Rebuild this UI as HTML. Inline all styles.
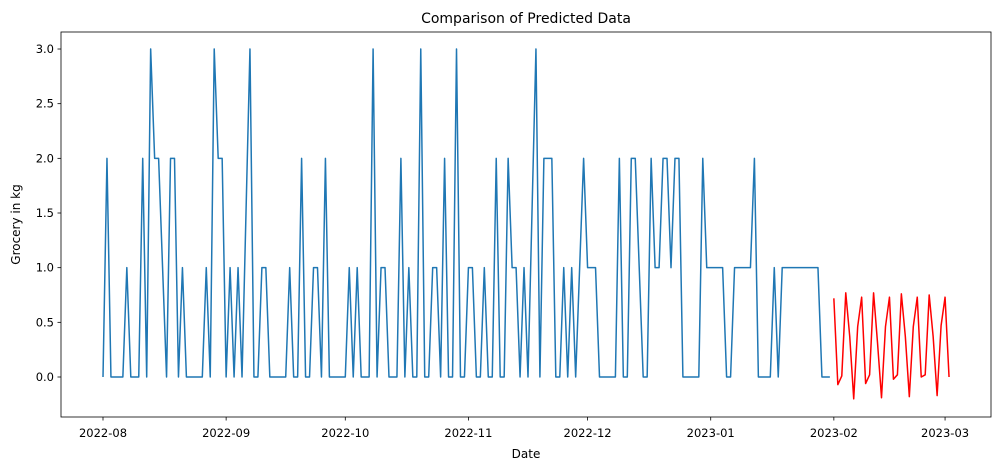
<!DOCTYPE html>
<html><head><meta charset="utf-8"><style>
body{margin:0;background:#fff;}
svg{display:block;font-family:"DejaVu Sans","Liberation Sans",sans-serif;}
</style></head><body>
<svg id="chart" width="1001" height="470"></svg>
<script>
const blueValues=[0,2,0,0,0,0,1,0,0,0,2,0,3,2,2,1,0,2,2,0,1,0,0,0,0,0,1,0,3,2,2,0,1,0,1,0,1.5,3,0,0,1,1,0,0,0,0,0,1,0,0,2,0,0,1,1,0,2,0,0,0,0,0,1,0,1,0,0,0,3,0,1,1,0,0,0,2,0,1,0,0,3,0,0,1,1,0,2,0,0,3,0,0,1,1,0,0,1,0,0,2,0,0,2,1,1,0,1,0,1.5,3,0,2,2,2,0,0,1,0,1,0,1,2,1,1,1,0,0,0,0,0,2,0,0,2,2,1,0,0,2,1,1,2,2,1,2,2,0,0,0,0,0,2,1,1,1,1,1,0,0,1,1,1,1,1,2,0,0,0,0,1,0,1,1,1,1,1,1,1,1,1,1,0,0,0];
const redStartDay=184;
const redValues=[0.72,-0.07,0.01,0.77,0.37,-0.2,0.46,0.73,-0.06,0.02,0.77,0.31,-0.19,0.46,0.73,-0.02,0.02,0.76,0.37,-0.18,0.46,0.73,0.0,0.02,0.75,0.37,-0.17,0.47,0.73,0.0];
const xTickLabels=["2022-08","2022-09","2022-10","2022-11","2022-12","2023-01","2023-02","2023-03"];
const xTickDays=[0,31,61,92,122,153,184,212];
const yTickValues=[0,0.5,1,1.5,2,2.5,3];
const yTickLabels=["0.0","0.5","1.0","1.5","2.0","2.5","3.0"];

const NS="http://www.w3.org/2000/svg";
const svg=document.getElementById('chart');
const L=61,R=991,T=32,B=417;
function xs(d){return 103+3.972*d;}
function ys(v){return 377-109.33*v;}
function mk(tag,attrs,parent){const e=document.createElementNS(NS,tag);for(const k in attrs)e.setAttribute(k,attrs[k]);(parent||svg).appendChild(e);return e;}

const title=mk('text',{x:(L+R)/2,y:23,'text-anchor':'middle','font-size':'14','fill':'#000'});


title.textContent='Comparison of Predicted Data';

const xt=mk('g',{});


xTickDays.forEach((d,i)=>{
  mk('line',{x1:xs(d),x2:xs(d),y1:B,y2:B+3.5,stroke:'#000','stroke-width':0.8},xt);
  const t=mk('text',{x:xs(d),y:B+20,'text-anchor':'middle','font-size':'11.5',fill:'#000'},xt);
  
  
  t.textContent=xTickLabels[i];
});
const yt=mk('g',{});


yTickValues.forEach((v,i)=>{
  mk('line',{x1:L-3.5,x2:L,y1:ys(v),y2:ys(v),stroke:'#000','stroke-width':0.8},yt);
  const t=mk('text',{x:L-7,y:ys(v)+4,'text-anchor':'end','font-size':'11.5',fill:'#000'},yt);
  
  
  t.textContent=yTickLabels[i];
});

const xl=mk('text',{x:(L+R)/2,y:458,'text-anchor':'middle','font-size':'12',fill:'#000'});


xl.textContent='Date';
const yl=mk('text',{x:20,y:(T+B)/2,'text-anchor':'middle','font-size':'12',fill:'#000',transform:'rotate(-90 20 '+((T+B)/2)+')'});


yl.textContent='Grocery in kg';

const bp=mk('polyline',{points:blueValues.map((v,i)=>xs(i).toFixed(2)+','+ys(v).toFixed(2)).join(' '),fill:'none',stroke:'#1f77b4','stroke-width':1.5,'stroke-linejoin':'round'});


const rp=mk('polyline',{points:redValues.map((v,i)=>xs(redStartDay+i).toFixed(2)+','+ys(v).toFixed(2)).join(' '),fill:'none',stroke:'#ff0000','stroke-width':1.5,'stroke-linejoin':'round'});



const frame=mk('rect',{x:L,y:T,width:R-L,height:B-T,fill:'none',stroke:'#000','stroke-width':0.8});


</script>
</body></html>
